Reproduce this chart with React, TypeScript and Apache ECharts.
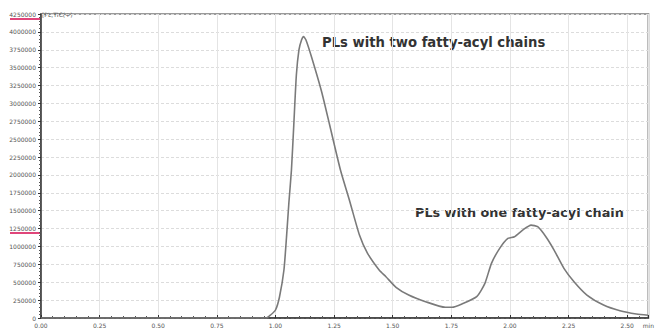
import React, { useEffect, useRef } from "react";
import * as echarts from "echarts";

const timesMin = [
  0.0, 0.25, 0.5, 0.75, 0.96, 0.979, 1.0, 1.017, 1.036, 1.047, 1.057, 1.068, 1.078, 1.089, 1.1, 1.111,
  1.12, 1.13, 1.155, 1.197, 1.231, 1.277, 1.315, 1.358, 1.392, 1.442, 1.471, 1.514, 1.568, 1.64,
  1.724, 1.753, 1.795, 1.858, 1.893, 1.921, 1.956, 1.991, 2.019, 2.054, 2.09, 2.118, 2.153, 2.188,
  2.23, 2.273, 2.328, 2.399, 2.469, 2.539, 2.589,
];
const intensity = [
  0, 0, 0, 0, 0, 42000, 112000, 294000, 671000, 1132000, 1608000, 2069000, 2698000, 3397000, 3747000,
  3886000, 3933000, 3886000, 3635000, 3160000, 2698000, 2069000, 1650000, 1160000, 908000, 671000,
  577000, 429000, 321000, 228000, 150000, 150000, 196000, 298000, 485000, 764000, 974000, 1113000,
  1136000, 1229000, 1299000, 1276000, 1136000, 950000, 694000, 507000, 321000, 182000, 102000, 56000,
  38000,
];
const xMax = 2.59;
const yMax = 4250000;
const yInterval = 250000;
const xInterval = 0.25;
const traceTitle = "[PL,TIC(+)";
const xUnit = "min";
const annotations = ["PLs with two fatty-acyl chains", "PLs with one fatty-acyl chain"];

export default function App() {
  const ref = useRef<HTMLDivElement>(null);
  useEffect(() => {
    if (!ref.current) return;
    const chart = echarts.init(ref.current, null, { renderer: "svg" });
    const data = timesMin.map((t, i) => [t, intensity[i]]);
    chart.setOption({
      animation: false,
      backgroundColor: "#ffffff",
      grid: {
        left: 41,
        right: 2,
        top: 14,
        bottom: 12,
        show: true,
        borderColor: "#9a9a9a",
        borderWidth: 2,
        backgroundColor: "transparent",
      },
      xAxis: {
        type: "value",
        min: 0,
        max: xMax,
        interval: xInterval,
        axisLine: { show: true, onZero: false, lineStyle: { color: "#333", width: 1.5 } },
        axisTick: { show: true, inside: true, length: 3, lineStyle: { color: "#333" } },
        minorTick: { show: true, splitNumber: 5, length: 2, lineStyle: { color: "#555" } },
        axisLabel: {
          fontSize: 6,
          color: "#555",
          margin: 4,
          fontFamily: "DejaVu Sans",
          formatter: (v: number) => (Math.abs(v - xMax) < 1e-6 ? xUnit : v.toFixed(2)),
        },
        splitLine: { show: true, lineStyle: { color: "#e4e4e4", width: 1 } },
      },
      yAxis: {
        type: "value",
        min: 0,
        max: yMax,
        interval: yInterval,
        axisLine: { show: true, lineStyle: { color: "#333", width: 1.5 } },
        axisTick: { show: true, length: 3, lineStyle: { color: "#333" } },
        minorTick: { show: true, splitNumber: 5, length: 2, lineStyle: { color: "#555" } },
        axisLabel: {
          fontSize: 6,
          color: "#555",
          margin: 5,
          fontFamily: "DejaVu Sans",
          formatter: (v: number) => String(v),
        },
        splitLine: { show: true, lineStyle: { color: "#dcdcdc", width: 1, type: [3, 2] } },
      },
      series: [
        {
          type: "line",
          data,
          smooth: 0.2,
          showSymbol: false,
          lineStyle: { color: "#7a7a7a", width: 1.6 },
        },
      ],
      graphic: [
        { type: "line", shape: { x1: 10, y1: 19, x2: 40, y2: 19 }, style: { stroke: "#e0457a", lineWidth: 2 } },
        { type: "line", shape: { x1: 10, y1: 233, x2: 40, y2: 233 }, style: { stroke: "#e0457a", lineWidth: 2 } },
        {
          type: "text",
          left: 42,
          top: 11,
          style: { text: traceTitle, fontSize: 6, fill: "#555", fontFamily: "DejaVu Sans" },
        },
        {
          type: "text",
          left: 322,
          top: 36,
          style: { text: annotations[0], fontSize: 13.2, fontWeight: "bold", fill: "#333", fontFamily: "DejaVu Sans" },
        },
        {
          type: "text",
          left: 415,
          top: 206,
          style: { text: annotations[1], fontSize: 12.8, fontWeight: "bold", fill: "#333", fontFamily: "DejaVu Sans" },
        },
      ],
    });
    return () => chart.dispose();
  }, []);
  return <div ref={ref} style={{ position: "fixed", left: 0, top: 0, width: 657, height: 330 }} />;
}
